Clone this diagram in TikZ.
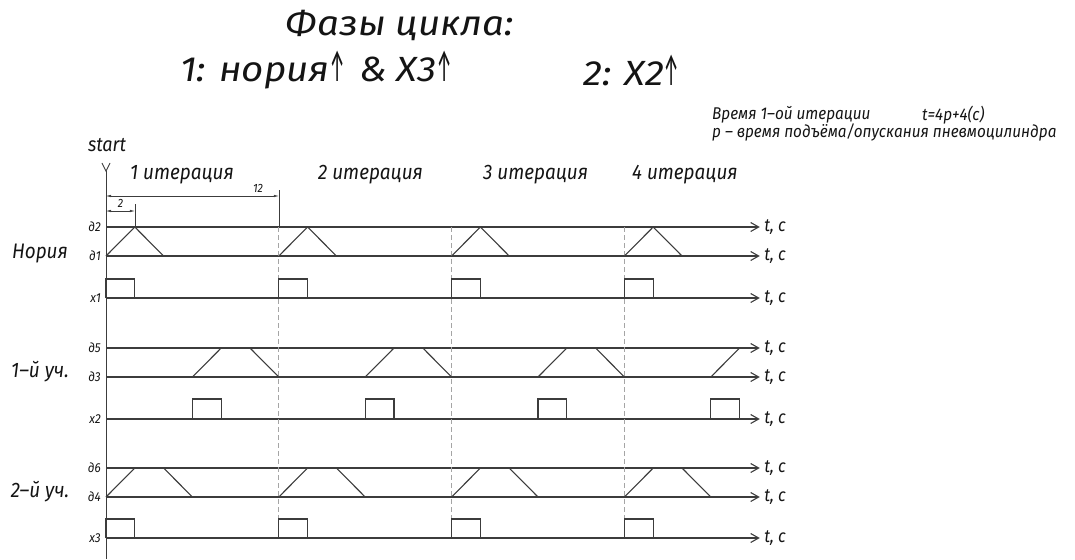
\documentclass[tikz,border=0pt]{standalone}
\usepackage{fontspec}
\newfontfamily\gostfont{Fira Sans}[FakeStretch=1.1]
\newfontfamily\gostnarrow{Fira Sans}[FakeStretch=0.9]
\usetikzlibrary{arrows.meta}
\definecolor{SigGray}{RGB}{60,60,60}
\definecolor{DashGray}{RGB}{165,165,165}
\definecolor{InkBlack}{RGB}{20,20,20}
\newcommand\upmark{\scalebox{0.45}[1.3]{↑}}
\tikzset{
  sig/.style={draw=SigGray,line width=1.1pt},
  taxis/.style={sig,-{Straight Barb[length=8pt,width=9pt]}},
  iterline/.style={draw=DashGray,line width=0.8pt,dash pattern=on 5pt off 3pt},
  extline/.style={draw=SigGray,line width=0.5pt},
  dim/.style={extline,{Latex[length=5pt,width=2.5pt]}-{Latex[length=5pt,width=2.5pt]}},
  txt/.style={text=InkBlack,inner sep=0pt},
  title/.style={txt,font=\gostfont\itshape\fontsize{35}{35}\selectfont},
  note/.style={txt,font=\gostnarrow\itshape\fontsize{17}{17}\selectfont},
  iter/.style={txt,font=\gostnarrow\itshape\fontsize{21}{21}\selectfont},
  group/.style={txt,font=\gostnarrow\itshape\fontsize{21}{21}\selectfont},
  siglbl/.style={txt,font=\gostnarrow\itshape\fontsize{13}{13}\selectfont},
  tc/.style={txt,font=\gostnarrow\itshape\fontsize{18}{18}\selectfont},
  dimlbl/.style={txt,font=\gostnarrow\itshape\fontsize{12}{12}\selectfont},
}
\begin{document}
\begin{tikzpicture}[x=1pt,y=-1pt]
\useasboundingbox (0,0) rectangle (1075,559);
% header
\node[title] (title) at (400,25) {Фазы цикла:};
\node[title,anchor=west] (phase1) at (180,70) {1: нория\upmark\hspace{4pt} \& X3\upmark};
\node[title,anchor=west] (phase2) at (583,70) {2: X2\upmark};
\node[note,anchor=west] (tdur) at (712,115) {Время 1–ой итерации};
\node[note,anchor=west] (tform) at (922,115) {t=4p+4(c)};
\node[note,anchor=west] (pdef) at (712,132) {p – время подъёма/опускания пневмоцилиндра};
\node[tc,font=\gostnarrow\itshape\fontsize{20}{20}\selectfont] (start) at (107,145) {start};
\foreach \x/\k in {130/1,318/2,483/3,632/4}
  \node[iter,anchor=west] (it\k) at (\x,175) {\k{} итерация};
\node[group] (noria) at (40,254) {Нория};
\node[group] (sec1) at (40,372) {1–й уч.};
\node[group] (sec2) at (40,492) {2–й уч.};
% time axes, 12 units per iteration
\begin{scope}[shift={(106,0)},x=14.4pt]
\draw[sig,line width=0.9pt] (0,559) -- (0,171);
\draw[sig,line width=0.9pt] (-0.28,163) -- (0,171) -- (0.28,163);
\foreach \y/\n/\t in {227/d2/д2,256/d1/д1,298/x1/x1,348/d5/д5,377/d3/д3,419/x2/x2,468/d6/д6,497/d4/д4,538/x3/x3}{
  \node[siglbl,anchor=east] (l-\n) at (-0.35,\y) {\t};
  \draw[taxis] (0,\y) -- (45.4,\y) node[tc,anchor=west,xshift=4pt] (tc-\n) {t, c};
}
\foreach \k in {1,2,3} \draw[iterline] (12*\k,227) -- (12*\k,538);
\draw[extline] (12,190) -- (12,227);
\draw[extline] (2,204) -- (2,227);
\draw[dim] (0,196) -- node[dimlbl,above=3pt,pos=0.88] (dim12) {12} (12,196);
\draw[dim] (0,211) -- node[dimlbl,above=3pt] (dim2) {2} (2,211);
\foreach \k in {0,1,2,3}{
  % нория
  \draw[sig] (12*\k,256) -- (12*\k+2,227) -- (12*\k+4,256);
  \draw[sig] (12*\k,298) -- (12*\k,279) -- (12*\k+2,279) -- (12*\k+2,298);
  % 1-й участок
  \draw[sig] (12*\k+6,377) -- (12*\k+8,348);
  \draw[sig] (12*\k+6,419) -- (12*\k+6,399) -- (12*\k+8,399) -- (12*\k+8,419);
  % 2-й участок
  \draw[sig] (12*\k,497) -- (12*\k+2,468);
  \draw[sig] (12*\k+4,468) -- (12*\k+6,497);
  \draw[sig] (12*\k,538) -- (12*\k,519) -- (12*\k+2,519) -- (12*\k+2,538);
}
\foreach \k in {0,1,2} \draw[sig] (12*\k+10,348) -- (12*\k+12,377);
\end{scope}
\end{tikzpicture}
\end{document}
